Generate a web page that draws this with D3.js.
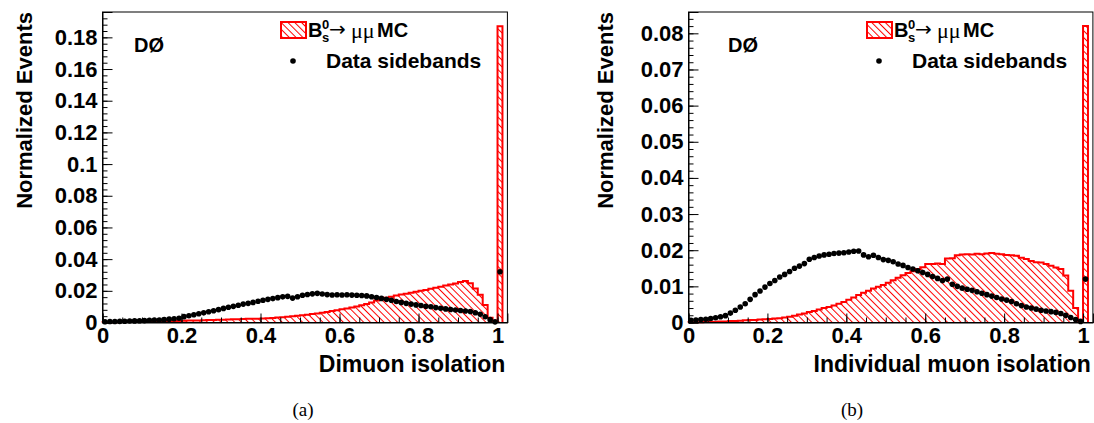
<!DOCTYPE html>
<html><head><meta charset="utf-8">
<script src="https://cdn.jsdelivr.net/npm/d3@7"></script>
<style>
body{margin:0;background:#fff}
svg{display:block}
</style>
</head><body>
<svg id="c" width="1094" height="423"></svg>
<script>
// ---------------- data ----------------
const binWidth = 0.0125;   // 80 bins over [0,1] + one bin at isolation = 1

const mcDimuon = [
  0.0001,0.0002,0.0002,0.0003,0.0003,0.0004,0.0004,0.0005,
  0.0005,0.0006,0.0006,0.0007,0.0008,0.0008,0.0009,0.0010,
  0.0011,0.0012,0.0012,0.0013,0.0014,0.0015,0.0016,0.0017,
  0.0018,0.0019,0.0020,0.0021,0.0022,0.0023,0.0024,0.0024,
  0.0025,0.0027,0.0029,0.0031,0.0033,0.0036,0.0039,0.0042,
  0.0045,0.0049,0.0053,0.0057,0.0062,0.0067,0.0072,0.0077,
  0.0083,0.0088,0.0094,0.0101,0.0109,0.0117,0.0126,0.0139,
  0.0147,0.0156,0.0163,0.0170,0.0176,0.0182,0.0188,0.0194,
  0.0200,0.0205,0.0213,0.0220,0.0226,0.0233,0.0240,0.0246,
  0.0255,0.0262,0.0248,0.0215,0.0175,0.0110,0.0030,0.0003,
  0.187
];
const dataDimuon = [
  0.0005,0.0006,0.0006,0.0007,0.0008,0.0009,0.0010,0.0011,
  0.0012,0.0014,0.0015,0.0016,0.0018,0.0021,0.0024,0.0027,
  0.0037,0.0043,0.0049,0.0055,0.0061,0.0068,0.0074,0.0081,
  0.0089,0.0096,0.0102,0.0109,0.0116,0.0121,0.0127,0.0134,
  0.0140,0.0146,0.0151,0.0157,0.0162,0.0165,0.0154,0.0163,
  0.0172,0.0177,0.0181,0.0184,0.0180,0.0176,0.0174,0.0175,
  0.0174,0.0175,0.0173,0.0172,0.0170,0.0168,0.0163,0.0158,
  0.0152,0.0146,0.0140,0.0133,0.0127,0.0121,0.0116,0.0111,
  0.0107,0.0103,0.0099,0.0094,0.0090,0.0086,0.0082,0.0079,
  0.0076,0.0073,0.0069,0.0062,0.0052,0.0036,0.0018,0.0004,
  0.032
];
const mcIndiv = [
  0.0001,0.0001,0.0001,0.0002,0.0002,0.0002,0.0003,0.0003,
  0.0004,0.0004,0.0005,0.0006,0.0007,0.0007,0.0008,0.0009,
  0.0010,0.0011,0.0012,0.0014,0.0016,0.0019,0.0022,0.0025,
  0.0029,0.0032,0.0036,0.0040,0.0043,0.0047,0.0052,0.0057,
  0.0063,0.0069,0.0076,0.0082,0.0088,0.0094,0.0099,0.0104,
  0.0110,0.0117,0.0124,0.0131,0.0137,0.0142,0.0148,0.0153,
  0.0162,0.0162,0.0163,0.0162,0.0177,0.0178,0.0186,0.0188,
  0.0189,0.0188,0.0190,0.0189,0.0191,0.0192,0.0190,0.0189,
  0.0187,0.0186,0.0185,0.0179,0.0176,0.0170,0.0167,0.0166,
  0.0162,0.0157,0.0152,0.0148,0.0130,0.0088,0.0040,0.0002,
  0.082
];
const dataIndiv = [
  0.0006,0.0007,0.0008,0.0009,0.0011,0.0013,0.0016,0.0019,
  0.0026,0.0034,0.0043,0.0052,0.0064,0.0077,0.0087,0.0098,
  0.0108,0.0116,0.0126,0.0133,0.0141,0.0150,0.0156,0.0163,
  0.0175,0.0180,0.0184,0.0187,0.0189,0.0191,0.0192,0.0193,
  0.0195,0.0197,0.0198,0.0187,0.0182,0.0186,0.0180,0.0174,
  0.0172,0.0168,0.0162,0.0158,0.0152,0.0148,0.0143,0.0138,
  0.0133,0.0127,0.0122,0.0116,0.0120,0.0106,0.0100,0.0095,
  0.0092,0.0089,0.0085,0.0081,0.0077,0.0073,0.0069,0.0065,
  0.0062,0.0058,0.0052,0.0047,0.0043,0.0040,0.0037,0.0034,
  0.0032,0.0030,0.0028,0.0025,0.0020,0.0014,0.0008,0.0003,
  0.012
];

const xTickValues = [0, 0.2, 0.4, 0.6, 0.8, 1];
const xTickLabels = ["0", "0.2", "0.4", "0.6", "0.8", "1"];
const yTickValuesA = [0, 0.02, 0.04, 0.06, 0.08, 0.1, 0.12, 0.14, 0.16, 0.18];
const yTickLabelsA = ["0", "0.02", "0.04", "0.06", "0.08", "0.1", "0.12", "0.14", "0.16", "0.18"];
const yTickValuesB = [0, 0.01, 0.02, 0.03, 0.04, 0.05, 0.06, 0.07, 0.08];
const yTickLabelsB = ["0", "0.01", "0.02", "0.03", "0.04", "0.05", "0.06", "0.07", "0.08"];
const xTitles = ["Dimuon isolation", "Individual muon isolation"];
const yTitle = "Normalized Events";
const captions = ["(a)", "(b)"];
const experiment = "DØ";
const legendData = "Data sidebands";

// ---------------- drawing ----------------
const SANS = "'Liberation Sans', Arial, Helvetica, sans-serif";
const SERIF = "'Liberation Serif', 'Times New Roman', serif";
const svg = d3.select("#c");
const RED = "#ff0000";

const defs = svg.append("defs");
const pat = defs.append("pattern")
  .attr("id", "hatch").attr("patternUnits", "userSpaceOnUse")
  .attr("width", 4.8).attr("height", 4.8)
  .attr("patternTransform", "rotate(-45)");
pat.append("line").attr("x1", 0.5).attr("y1", 0).attr("x2", 0.5).attr("y2", 4.8)
  .attr("stroke", RED).attr("stroke-width", 1);

const panels = [
  { mc: mcDimuon, data: dataDimuon, yMax: 0.196, yTicks: yTickValuesA, yLabels: yTickLabelsA, yMinor: 0.004,
    left: 102.5, right: 507.4, top: 12, bottom: 322.5, xTitle: xTitles[0], caption: captions[0],
    titleX: 32, capX: 303, dzX: 134, legX: 281 },
  { mc: mcIndiv, data: dataIndiv, yMax: 0.0859, yTicks: yTickValuesB, yLabels: yTickLabelsB, yMinor: 0.002,
    left: 688.5, right: 1092.9, top: 12, bottom: 322.5, xTitle: xTitles[1], caption: captions[1],
    titleX: 613, capX: 852, dzX: 728, legX: 867 }
];

function txt(g, x, y, s, size, bold, family) {
  return g.append("text").attr("x", x).attr("y", y)
    .style("font-family", family || SANS).style("font-size", size + "px")
    .style("font-weight", bold ? "bold" : "normal").attr("fill", "#000").text(s);
}

panels.forEach(p => {
  const x = d3.scaleLinear().domain([0, 1.025]).range([p.left, p.right]);
  const y = d3.scaleLinear().domain([0, p.yMax]).range([p.bottom, p.top]);
  const g = svg.append("g");

  // MC histogram (hatched, red outline)
  const n = p.mc.length;
  const pts = [[x(0), y(0)]];
  p.mc.forEach((v, i) => { pts.push([x(i * binWidth), y(v)]); pts.push([x((i + 1) * binWidth), y(v)]); });
  pts.push([x(n * binWidth), y(0)]);
  g.append("path").attr("d", d3.line()(pts) + "Z")
    .attr("fill", "url(#hatch)").attr("stroke", "none");
  g.append("path").attr("d", d3.line()(pts))
    .attr("fill", "none").attr("stroke", RED).attr("stroke-width", 2);

  // data points
  g.selectAll("circle.d").data(p.data).join("circle")
    .attr("cx", (d, i) => x((i + 0.5) * binWidth)).attr("cy", d => y(d))
    .attr("r", 2.8).attr("fill", "#000");

  // frame
  g.append("rect").attr("x", p.left).attr("y", p.top)
    .attr("width", p.right - p.left).attr("height", p.bottom - p.top)
    .attr("fill", "none").attr("stroke", "#000").attr("stroke-width", 1);

  // y axis: major + minor ticks inside
  const yMinorVals = d3.range(0, p.yMax + 1e-9, p.yMinor);
  g.append("g").attr("transform", `translate(${p.left},0)`)
    .call(d3.axisLeft(y).tickValues(yMinorVals).tickSize(-5).tickFormat(""))
    .call(a => a.select(".domain").remove());
  const ya = g.append("g").attr("transform", `translate(${p.left},0)`)
    .call(d3.axisLeft(y).tickValues(p.yTicks).tickSize(-10).tickPadding(5)
      .tickFormat((d, i) => p.yLabels[i]));
  ya.selectAll("text").style("font-size", "22px").style("font-weight", "bold").attr("fill", "#000")
    .style("font-family", SANS);

  // x axis
  const xMinorVals = d3.range(0, 1.0001, 0.05);
  g.append("g").attr("transform", `translate(0,${p.bottom})`)
    .call(d3.axisBottom(x).tickValues(xMinorVals).tickSize(-5).tickFormat(""))
    .call(a => a.select(".domain").remove());
  const xa = g.append("g").attr("transform", `translate(0,${p.bottom})`)
    .call(d3.axisBottom(x).tickValues(xTickValues).tickSize(-9).tickPadding(5)
      .tickFormat((d, i) => xTickLabels[i]));
  xa.selectAll("text").style("font-size", "22px").style("font-weight", "bold").attr("fill", "#000")
    .style("font-family", SANS);

  // titles
  txt(g, p.right - 2, 372, p.xTitle, 23, true).attr("text-anchor", "end");
  txt(g, 0, 0, yTitle, 22, true).attr("x", null).attr("y", null)
    .attr("transform", `translate(${p.titleX},${p.top}) rotate(-90)`).attr("text-anchor", "end");

  // experiment label
  txt(g, p.dzX, 52, experiment, 20, true);

  // legend
  const lx = p.legX;
  g.append("rect").attr("x", lx).attr("y", 22).attr("width", 25).attr("height", 16)
    .attr("fill", "url(#hatch)").attr("stroke", RED).attr("stroke-width", 2);
  txt(g, lx + 27, 37, "B", 20, true);
  txt(g, lx + 41, 29, "0", 13, true);
  txt(g, lx + 41, 42, "s", 13, true);
  txt(g, lx + 48, 36, "→", 20, false, "'DejaVu Sans', sans-serif");
  txt(g, lx + 70, 38, "μμ", 22, false, SERIF);
  txt(g, lx + 96, 37, "MC", 20, true);
  g.append("circle").attr("cx", lx + 12).attr("cy", 61).attr("r", 2.8).attr("fill", "#000");
  txt(g, lx + 45, 68, legendData, 21, true);

  // caption
  txt(svg, p.capX, 416, p.caption, 19, false, SERIF).attr("text-anchor", "middle");
});
</script>
</body></html>
